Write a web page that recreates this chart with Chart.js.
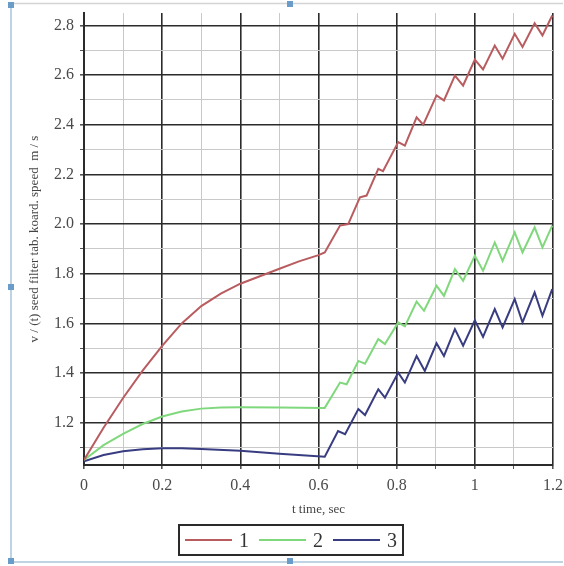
<!DOCTYPE html>
<html>
<head>
<meta charset="utf-8">
<script src="https://cdn.jsdelivr.net/npm/chart.js@4.4.1/dist/chart.umd.min.js"></script>
<style>
html,body{margin:0;padding:0;background:#fff;}
#wrap{position:relative;width:564px;height:566px;}
</style>
</head>
<body>
<div id="wrap"><canvas id="c" width="564" height="566"></canvas></div>
<script>
// ---- data ----
const seriesLabels = ['1', '2', '3'];
const xTickLabels = ['0', '0.2', '0.4', '0.6', '0.8', '1', '1.2'];
const yTickLabels = ['1.2', '1.4', '1.6', '1.8', '2.0', '2.2', '2.4', '2.6', '2.8'];

const t1 = [0, 0.05, 0.1, 0.15, 0.2, 0.25, 0.3, 0.35, 0.4, 0.45, 0.5, 0.55, 0.6, 0.616,
  0.655, 0.676, 0.706, 0.723, 0.753, 0.765, 0.804, 0.821, 0.851, 0.868, 0.902, 0.921,
  0.949, 0.970, 1.0, 1.021, 1.051, 1.071, 1.102, 1.122, 1.153, 1.173, 1.198];
const v1 = [1.05, 1.18, 1.30, 1.41, 1.51, 1.60, 1.67, 1.72, 1.76, 1.79, 1.82, 1.85, 1.875, 1.886,
  1.994, 2.0, 2.108, 2.115, 2.222, 2.213, 2.33, 2.316, 2.43, 2.40, 2.518, 2.498,
  2.598, 2.558, 2.662, 2.623, 2.719, 2.666, 2.766, 2.713, 2.809, 2.76, 2.84];

const t2 = [0, 0.05, 0.1, 0.15, 0.2, 0.25, 0.3, 0.35, 0.4, 0.5, 0.616,
  0.655, 0.672, 0.702, 0.719, 0.753, 0.770, 0.804, 0.821, 0.851, 0.870, 0.902, 0.921,
  0.949, 0.970, 1.0, 1.021, 1.051, 1.071, 1.102, 1.122, 1.153, 1.173, 1.198];
const v2 = [1.05, 1.11, 1.155, 1.195, 1.225, 1.245, 1.257, 1.262, 1.263, 1.262, 1.26,
  1.362, 1.355, 1.449, 1.438, 1.537, 1.517, 1.604, 1.588, 1.688, 1.651, 1.752, 1.711,
  1.819, 1.772, 1.873, 1.812, 1.926, 1.852, 1.967, 1.886, 1.987, 1.906, 1.994];

const t3 = [0, 0.05, 0.1, 0.15, 0.2, 0.25, 0.3, 0.4, 0.5, 0.616,
  0.65, 0.668, 0.702, 0.719, 0.753, 0.770, 0.804, 0.821, 0.851, 0.872, 0.902, 0.921,
  0.949, 0.970, 1.0, 1.021, 1.051, 1.071, 1.102, 1.122, 1.153, 1.173, 1.198];
const v3 = [1.045, 1.07, 1.085, 1.093, 1.097, 1.097, 1.094, 1.087, 1.075, 1.063,
  1.167, 1.154, 1.255, 1.231, 1.335, 1.301, 1.402, 1.362, 1.469, 1.409, 1.52, 1.469,
  1.577, 1.51, 1.613, 1.546, 1.658, 1.584, 1.698, 1.604, 1.725, 1.631, 1.738];

const colors = ['#b85c60', '#80d87c', '#383c80'];

const toPts = (t, v) => t.map((x, i) => ({ x: x, y: v[i] }));
const seriesT = [t1, t2, t3];
const seriesV = [v1, v2, v3];

const datasets = seriesLabels.map((lab, i) => ({
  label: lab,
  data: toPts(seriesT[i], seriesV[i]),
  borderColor: colors[i],
  backgroundColor: colors[i],
  borderWidth: 2,
  pointRadius: 0,
  showLine: true,
  tension: 0,
  fill: false
}));

const isMajor = v => Math.abs(Math.round(v * 10) % 2) === 0;
const serif = 'Liberation Serif, DejaVu Serif, serif';

// frame + custom boxed legend
const decor = {
  id: 'decor',
  beforeDraw(chart) {
    const ctx = chart.ctx;
    ctx.save();
    ctx.fillStyle = '#ffffff';
    ctx.fillRect(0, 0, chart.width, chart.height);
    ctx.strokeStyle = '#bfd3e2';
    ctx.lineWidth = 2;
    ctx.beginPath();
    ctx.moveTo(11, 3); ctx.lineTo(11, 562); ctx.lineTo(563, 562);
    ctx.stroke();
    ctx.strokeStyle = '#d4d4d4';
    ctx.lineWidth = 1.5;
    ctx.beginPath();
    ctx.moveTo(11, 3.5); ctx.lineTo(563, 3.5);
    ctx.stroke();
    ctx.fillStyle = '#6a9cc9';
    [[11, 5], [11, 287], [11, 561], [290, 561], [290, 4]].forEach(p => {
      ctx.fillRect(p[0] - 3, p[1] - 3, 6, 6);
    });
    ctx.restore();
  },
  afterDraw(chart) {
    const ctx = chart.ctx;
    ctx.save();
    const bx = 179, by = 525, bw = 224, bh = 30;
    ctx.strokeStyle = '#2a2a2a';
    ctx.lineWidth = 2;
    ctx.strokeRect(bx, by, bw, bh);
    const cy = by + bh / 2;
    const starts = [185, 259, 333];
    ctx.font = '20px ' + serif;
    ctx.textBaseline = 'middle';
    ctx.textAlign = 'center';
    chart.data.datasets.forEach((ds, i) => {
      ctx.strokeStyle = ds.borderColor;
      ctx.lineWidth = 2;
      ctx.beginPath();
      ctx.moveTo(starts[i], cy);
      ctx.lineTo(starts[i] + 47, cy);
      ctx.stroke();
      ctx.fillStyle = '#333';
      ctx.fillText(ds.label, starts[i] + 59, cy + 2);
    });
    ctx.restore();
  }
};

new Chart(document.getElementById('c'), {
  type: 'scatter',
  data: { datasets: datasets },
  options: {
    responsive: false,
    animation: false,
    layout: { padding: { top: 13, right: 11, bottom: 46, left: 0 } },
    plugins: {
      legend: { display: false },
      tooltip: { enabled: false }
    },
    scales: {
      x: {
        type: 'linear',
        min: 0,
        max: 1.2,
        afterBuildTicks: s => { s.ticks = Array.from({ length: 13 }, (_, i) => ({ value: Math.round(i) / 10 })); },
        afterFit: s => { s.height = 55; s.paddingLeft = 0; s.paddingRight = 0; },
        ticks: {
          autoSkip: false,
          maxRotation: 0,
          padding: 7,
          color: '#4a4a4a',
          font: { family: serif, size: 16 },
          callback: (v) => {
            const lbl = String(Math.round(v * 10) / 10);
            return isMajor(v) && xTickLabels.includes(lbl) ? lbl : '';
          }
        },
        grid: {
          color: c => isMajor(c.tick.value) ? '#2b2b2b' : '#c9c9c9',
          lineWidth: c => isMajor(c.tick.value) ? 1.6 : 1,
          tickLength: 4,
          tickColor: '#555'
        },
        border: { color: '#2b2b2b', width: 2 },
        title: {
          display: true,
          text: 't time, sec',
          color: '#444',
          font: { family: serif, size: 13 },
          padding: { top: 0, bottom: 3 }
        }
      },
      y: {
        type: 'linear',
        min: 1.03,
        max: 2.85,
        afterBuildTicks: s => { s.ticks = Array.from({ length: 18 }, (_, i) => ({ value: Math.round(11 + i) / 10 })); },
        afterFit: s => { s.width = 84; s.paddingTop = 0; s.paddingBottom = 0; },
        ticks: {
          autoSkip: false,
          padding: 6,
          color: '#4a4a4a',
          font: { family: serif, size: 16 },
          callback: (v) => {
            const lbl = (Math.round(v * 10) / 10).toFixed(1);
            return isMajor(v) && yTickLabels.includes(lbl) ? lbl : '';
          }
        },
        grid: {
          color: c => isMajor(c.tick.value) ? '#2b2b2b' : '#c9c9c9',
          lineWidth: c => isMajor(c.tick.value) ? 1.6 : 1,
          tickLength: 4,
          tickColor: '#555'
        },
        border: { color: '#2b2b2b', width: 2 },
        title: {
          display: true,
          text: 'v / (t) seed filter tab. koard. speed  m / s',
          color: '#444',
          font: { family: serif, size: 13 },
          padding: { top: 27, bottom: 0 }
        }
      }
    }
  },
  plugins: [decor]
});
</script>
</body>
</html>
